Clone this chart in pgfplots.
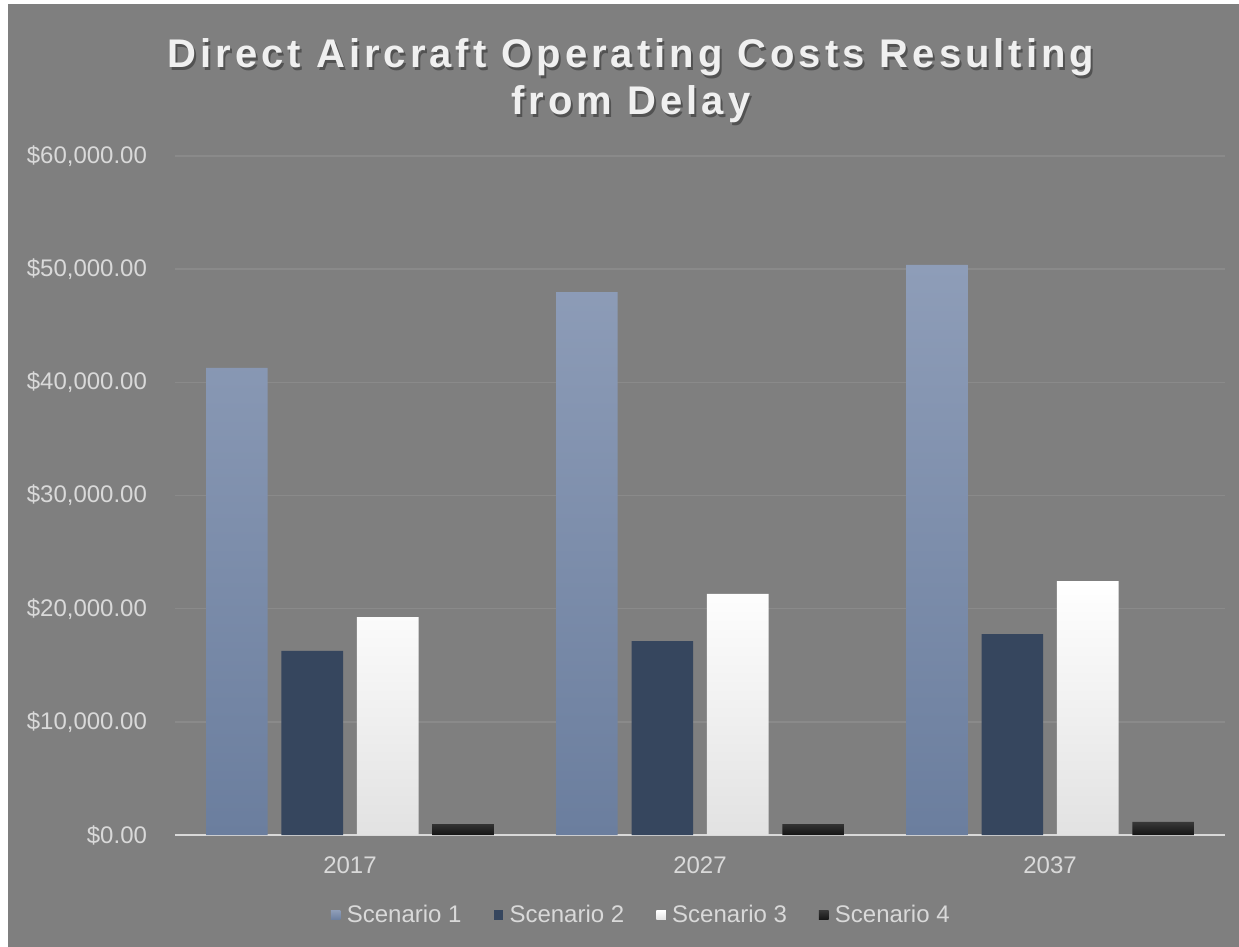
\documentclass[border=0pt]{standalone}
\usepackage{fontspec}
\setmainfont{Liberation Sans}
\newfontfamily\titlefont[LetterSpace=10]{Liberation Sans}
\usepackage{pgfplots}
\pgfplotsset{compat=1.18}

\definecolor{bg}{HTML}{7F7F7F}
\definecolor{gridc}{HTML}{8A8A8A}
\definecolor{txt}{HTML}{D9D9D9}
\definecolor{sOneTop}{HTML}{8E9DB8}
\definecolor{sOneBot}{HTML}{6B7E9E}
\definecolor{sTwo}{HTML}{36465E}
\definecolor{sThreeBot}{HTML}{E2E2E2}

\begin{document}
\begin{tikzpicture}
% chart area (1 px of the reference = 0.5bp, origin at the axis corner)
\fill[white] (-87.5bp,-56bp) rectangle (532bp,417.5bp);
\fill[bg] (-83.5bp,-56bp) rectangle (532bp,415.5bp);

\begin{axis}[
    scale only axis,
    width=525bp, height=339.5bp,
    ybar=6.9bp,
    bar width=30.8bp,
    xmin=-0.5, xmax=2.5,
    ymin=0, ymax=60000,
    xtick=data,
    xticklabels={2017,2027,2037},
    ytick={0,10000,...,60000},
    axis x line*=bottom,
    axis y line*=left,
    x axis line style={draw=txt, line width=1bp},
    y axis line style={draw=none},
    major tick length=0,
    ymajorgrids,
    grid style={draw=gridc, line width=0.8bp},
    tick label style={font=\fontsize{12bp}{14bp}\selectfont, text=txt},
    yticklabel={\$\pgfmathprintnumber[fixed, fixed zerofill, precision=2, 1000 sep={,}]{\tick}},
    /pgf/number format/assume math mode=true,
    yticklabel style={xshift=-10.5bp},
    xticklabel style={yshift=-7.5bp},
    scaled y ticks=false,
    legend columns=4,
    legend style={at={(0.445,-0.118)}, anchor=center, draw=none, fill=none,
        font=\fontsize{12bp}{14bp}\selectfont, text=txt,
        /tikz/every even column/.append style={column sep=14bp},
        /tikz/every odd column/.append style={column sep=1.2bp}},
    legend image code/.code={\path[#1,draw=none] (0bp,-2.4bp) rectangle (4.8bp,2.4bp);},
]
\addplot[draw=none, top color=sOneTop, bottom color=sOneBot] coordinates {
    (0,41270) (1,47980) (2,50370)};
\addplot[draw=none, fill=sTwo] coordinates {
    (0,16260) (1,17140) (2,17760)};
\addplot[draw=none, top color=white, middle color=white, bottom color=sThreeBot] coordinates {
    (0,19260) (1,21300) (2,22440)};
\addplot[draw=none, top color=black!78, middle color=black, bottom color=black!92] coordinates {
    (0,970) (1,970) (2,1150)};
\legend{Scenario 1, Scenario 2, Scenario 3, Scenario 4}
\end{axis}

% title with a soft shadow
\foreach \ty/\tx in {383.5bp/Direct Aircraft Operating Costs Resulting, 360bp/from Delay}{
  \node[anchor=base, text=black, opacity=0.35] at (229bp,\ty-1.2bp) {\titlefont\bfseries\fontsize{20bp}{24bp}\selectfont \tx};
  \node[anchor=base, text=white!94!black] at (228bp,\ty) {\titlefont\bfseries\fontsize{20bp}{24bp}\selectfont \tx};
}
\end{tikzpicture}
\end{document}
